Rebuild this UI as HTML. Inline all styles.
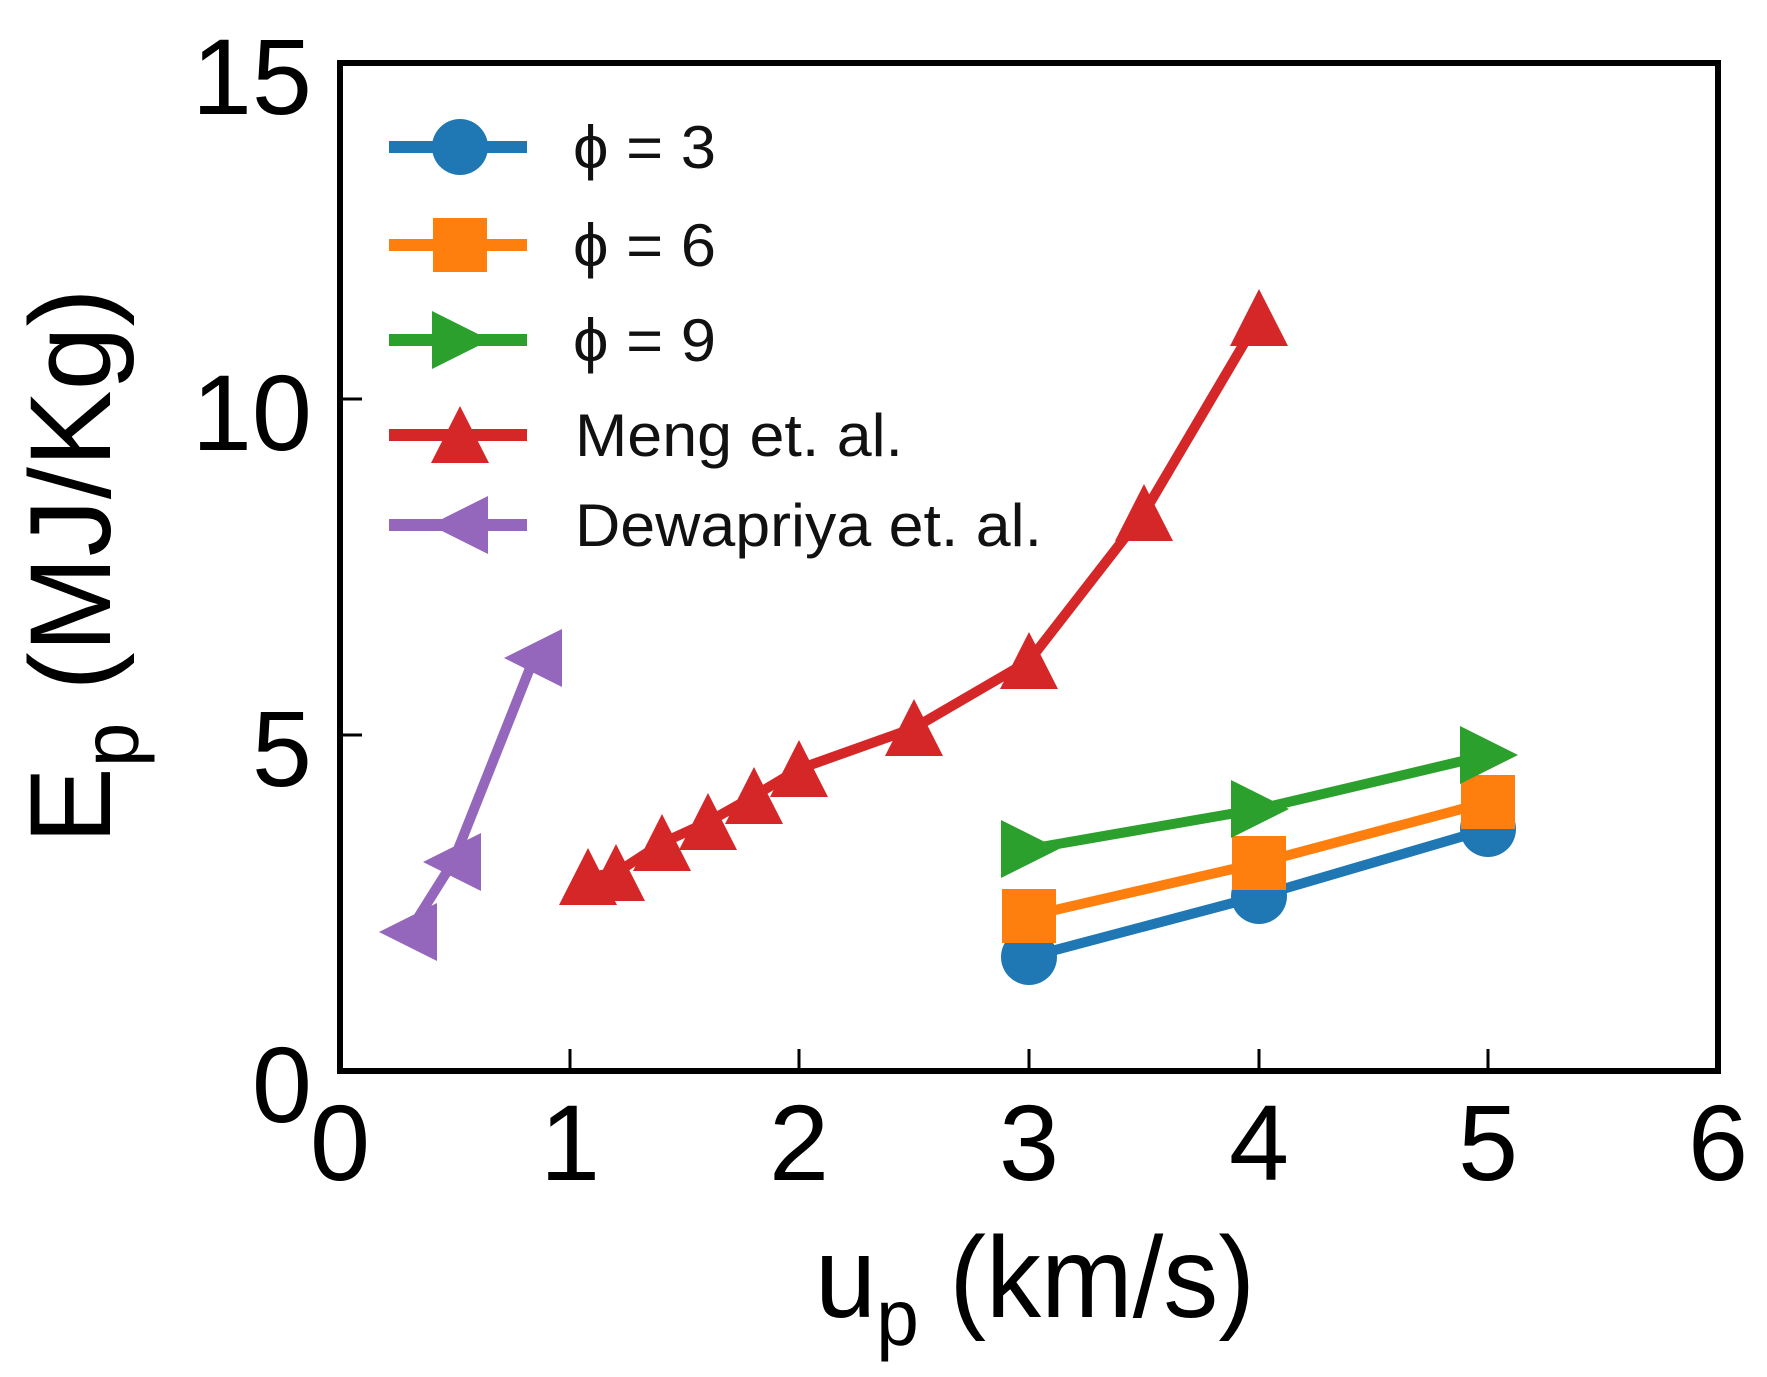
<!DOCTYPE html>
<html><head><meta charset="utf-8"><style>html,body{margin:0;padding:0;background:#fff}svg{display:block}</style></head>
<body>
<svg xmlns="http://www.w3.org/2000/svg" width="1767" height="1377" viewBox="0 0 1767 1377">
<defs>
<circle id="mc" r="28"/>
<rect id="ms" x="-27" y="-27" width="54" height="54"/>
<polygon id="mr" points="-28,-29 30,0 -28,29"/>
<polygon id="mu" points="0,-29 29,28 -29,28"/>
<polygon id="ml" points="28,-29 -30,0 28,29"/>
</defs>
<g font-family="Liberation Sans, sans-serif" fill="#000">
<g font-size="108" text-anchor="end">
<text x="312" y="1122">0</text>
<text x="312" y="786">5</text>
<text x="312" y="450">10</text>
<text x="312" y="114">15</text>
</g>
<g font-size="108" text-anchor="middle">
<text x="340" y="1180">0</text>
<text x="570" y="1180">1</text>
<text x="799" y="1180">2</text>
<text x="1029" y="1180">3</text>
<text x="1259" y="1180">4</text>
<text x="1488" y="1180">5</text>
<text x="1718" y="1180">6</text>
</g>
<text x="815" y="1317" font-size="115" textLength="440" lengthAdjust="spacingAndGlyphs">u<tspan font-size="80" dy="28">p</tspan><tspan dy="-28"> (km/s)</tspan></text>
<text transform="translate(110,566) rotate(-90)" text-anchor="middle" font-size="115">E<tspan font-size="80" dy="28">p</tspan><tspan dy="-28"> (MJ/Kg)</tspan></text>
</g>
<g stroke="#000" stroke-width="3">
<path d="M570,1071v-22M799,1071v-22M1029,1071v-22M1259,1071v-22M1488,1071v-22"/>
<path d="M340,735h22M340,399h22"/>
</g>
<g stroke-width="10" fill="none" stroke-linejoin="round">
<polyline stroke="#9467bd" points="409,932 453,862 534,658"/>
<polyline stroke="#d62728" points="588,877 616,873 662,843 708,822 754,796 799,769 914,728 1029,661 1144,513 1259,318"/>
<polyline stroke="#1f77b4" points="1029,957 1259,896 1488,829"/>
<polyline stroke="#ff7f0e" points="1029,916 1259,863 1488,802"/>
<polyline stroke="#2ca02c" points="1029,849 1259,809 1488,755"/>
</g>
<g fill="#9467bd"><use href="#ml" x="409" y="932"/><use href="#ml" x="453" y="862"/><use href="#ml" x="534" y="658"/></g>
<g fill="#d62728">
<use href="#mu" x="588" y="877"/><use href="#mu" x="616" y="873"/><use href="#mu" x="662" y="843"/><use href="#mu" x="708" y="822"/><use href="#mu" x="754" y="796"/><use href="#mu" x="799" y="769"/><use href="#mu" x="914" y="728"/><use href="#mu" x="1029" y="661"/><use href="#mu" x="1144" y="513"/><use href="#mu" x="1259" y="318"/>
</g>
<g fill="#1f77b4"><use href="#mc" x="1029" y="957"/><use href="#mc" x="1259" y="896"/><use href="#mc" x="1488" y="829"/></g>
<g fill="#ff7f0e"><use href="#ms" x="1029" y="916"/><use href="#ms" x="1259" y="863"/><use href="#ms" x="1488" y="802"/></g>
<g fill="#2ca02c"><use href="#mr" x="1029" y="849"/><use href="#mr" x="1259" y="809"/><use href="#mr" x="1488" y="755"/></g>
<g stroke-width="12">
<line x1="389" y1="147" x2="527" y2="147" stroke="#1f77b4"/>
<line x1="389" y1="245" x2="527" y2="245" stroke="#ff7f0e"/>
<line x1="389" y1="340" x2="527" y2="340" stroke="#2ca02c"/>
<line x1="389" y1="435" x2="527" y2="435" stroke="#d62728"/>
<line x1="389" y1="525" x2="527" y2="525" stroke="#9467bd"/>
</g>
<use href="#mc" x="460" y="147" fill="#1f77b4"/>
<use href="#ms" x="460" y="245" fill="#ff7f0e"/>
<use href="#mr" x="460" y="340" fill="#2ca02c"/>
<use href="#mu" x="460" y="435" fill="#d62728"/>
<use href="#ml" x="460" y="525" fill="#9467bd"/>
<g font-family="Liberation Sans, DejaVu Sans, sans-serif" font-size="60" fill="#111" lengthAdjust="spacingAndGlyphs">
<text x="573" y="168" textLength="143" lengthAdjust="spacingAndGlyphs">ϕ = 3</text>
<text x="573" y="266" textLength="143" lengthAdjust="spacingAndGlyphs">ϕ = 6</text>
<text x="573" y="361" textLength="143" lengthAdjust="spacingAndGlyphs">ϕ = 9</text>
<text x="575" y="456" textLength="328" lengthAdjust="spacingAndGlyphs">Meng et. al.</text>
<text x="575" y="546" textLength="467" lengthAdjust="spacingAndGlyphs">Dewapriya et. al.</text>
</g>
<rect x="340" y="63" width="1378" height="1008" fill="none" stroke="#000" stroke-width="6"/>
</svg>
</body></html>
